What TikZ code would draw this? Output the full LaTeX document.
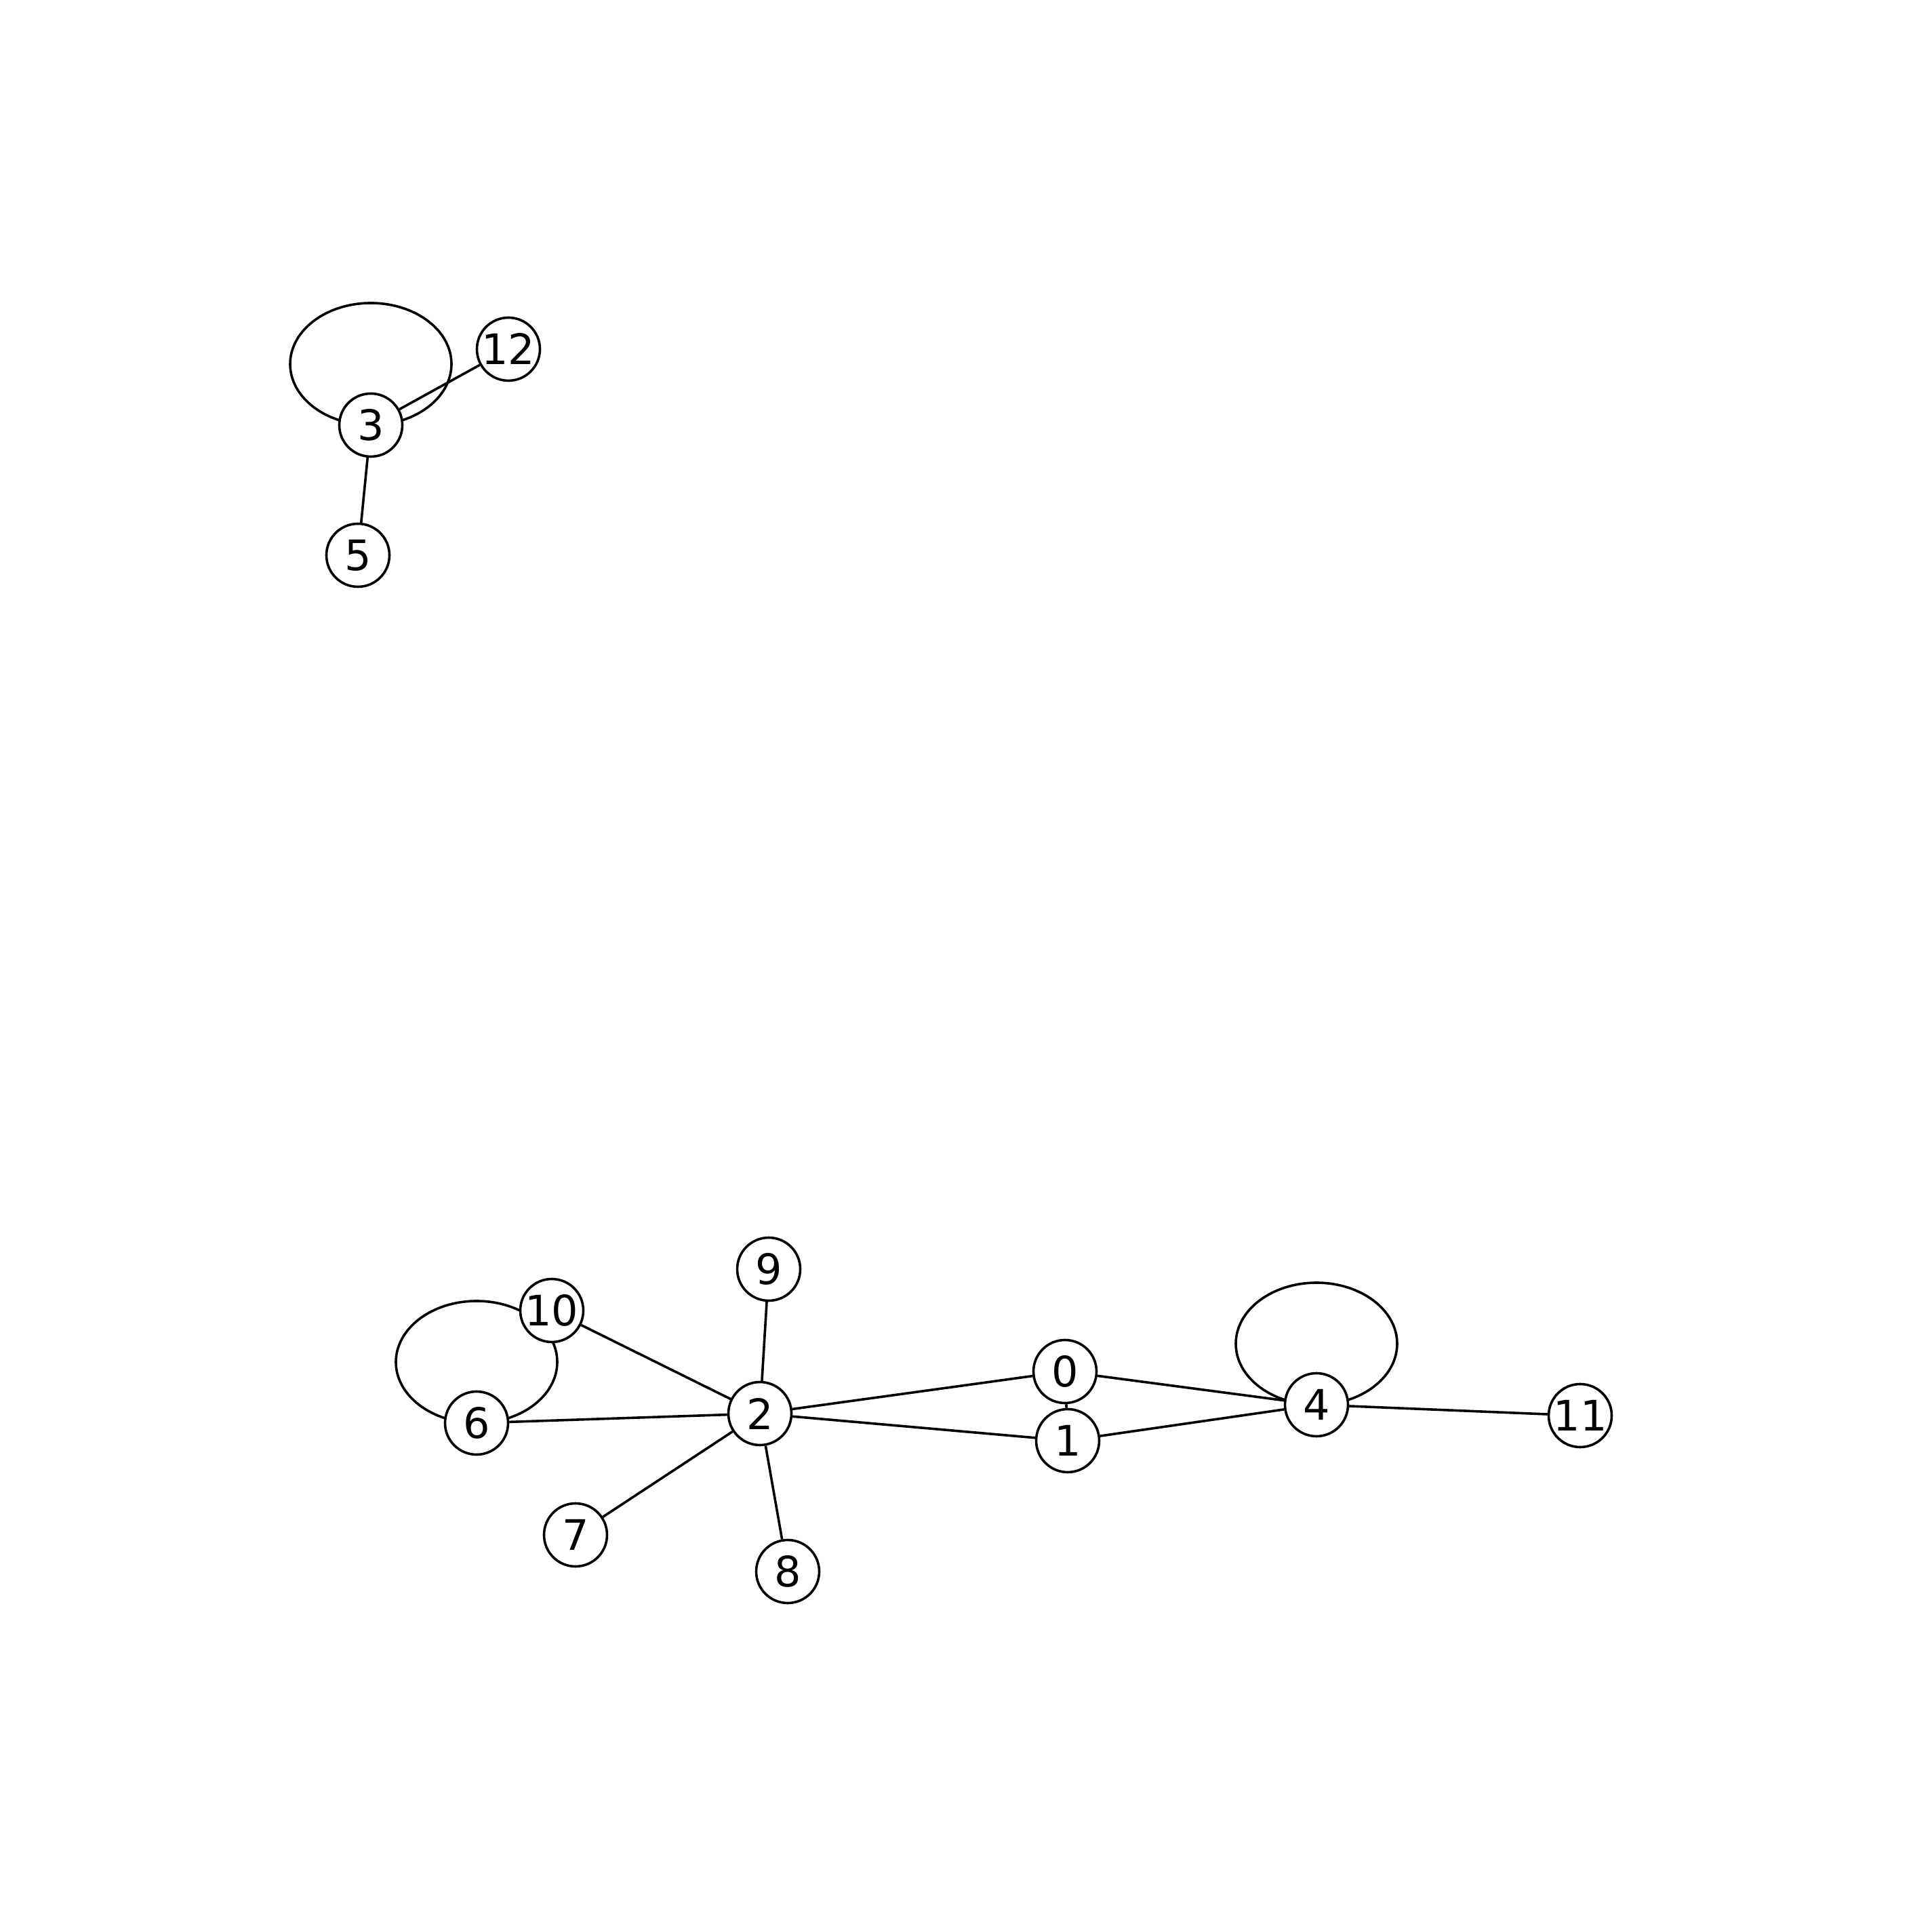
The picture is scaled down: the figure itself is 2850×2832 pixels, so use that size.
\documentclass[tikz,border=0pt]{standalone}
\usepackage{fontspec}
\setmainfont{DejaVu Sans}
\usetikzlibrary{backgrounds,calc}
\begin{document}
\begin{tikzpicture}[x=0.25pt,y=-0.25pt,
  vertex/.style={circle,draw=black,fill=white,line width=0.9pt,minimum size=23.25pt,inner sep=0pt,font=\fontsize{15.5pt}{18pt}\selectfont},
  edge/.style={draw=black,line width=0.9pt},
  selfloop/.style={draw=black,line width=0.9pt}]
\useasboundingbox (0,0) rectangle (2850,2832);
\node[vertex] (n0) at (1571,2023) {0};
\node[vertex] (n1) at (1575,2125) {1};
\node[vertex] (n2) at (1121,2085) {2};
\node[vertex] (n3) at (547,627) {3};
\node[vertex] (n4) at (1942,2072) {4};
\node[vertex] (n5) at (528,819) {5};
\node[vertex] (n6) at (703,2099) {6};
\node[vertex] (n7) at (849,2264) {7};
\node[vertex] (n8) at (1162,2318) {8};
\node[vertex] (n9) at (1134,1872) {9};
\node[vertex] (n10) at (814,1933) {10};
\node[vertex] (n11) at (2331,2088) {11};
\node[vertex] (n12) at (750,515) {12};
\begin{scope}[on background layer]
  \fill[white] (0,0) rectangle (2850,2832);
  \draw[selfloop] ($(n3.center)+(0,-90)$) ellipse [x radius=29.75pt, y radius=22.5pt];
  \draw[selfloop] ($(n6.center)+(0,-90)$) ellipse [x radius=29.75pt, y radius=22.5pt];
  \draw[selfloop] ($(n4.center)+(0,-90)$) ellipse [x radius=29.75pt, y radius=22.5pt];
\end{scope}
\draw[edge] (n3) -- (n12);
\draw[edge] (n3) -- (n5);
\draw[edge] (n10) -- (n2);
\draw[edge] (n6) -- (n2);
\draw[edge] (n9) -- (n2);
\draw[edge] (n7) -- (n2);
\draw[edge] (n8) -- (n2);
\draw[edge] (n2) -- (n0);
\draw[edge] (n2) -- (n1);
\draw[edge] (n0) -- (n1);
\draw[edge] (n0) -- (n4);
\draw[edge] (n1) -- (n4);
\draw[edge] (n4) -- (n11);
\end{tikzpicture}
\end{document}
